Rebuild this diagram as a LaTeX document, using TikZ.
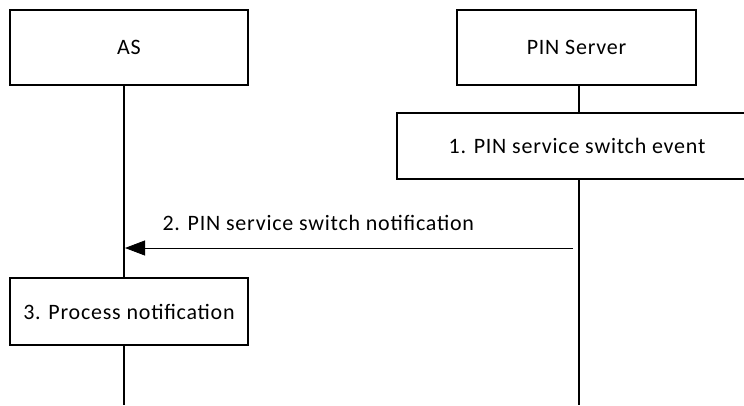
\documentclass[tikz,border=0pt]{standalone}
\usepackage{fontspec}
\setmainfont{Carlito}[LetterSpace=3.5]
\usetikzlibrary{arrows.meta}
\begin{document}
\begin{tikzpicture}[x=1pt,y=-1pt,
  box/.style={draw=black,line width=1.6pt,fill=white,inner sep=0pt},
  life/.style={draw=black,line width=1.6pt},
  msg/.style={draw=black,line width=0.8pt,-{Triangle[length=20pt,width=15pt]}},
  lbl/.style={font=\fontsize{22}{26}\selectfont}]
\useasboundingbox (0,0) rectangle (744,405);
\clip (0,0) rectangle (744,405);
% lifelines
\coordinate (asT) at (124,85);
\coordinate (asB) at (124,405);
\coordinate (pinT) at (579,85);
\coordinate (pinB) at (579,405);
\draw[life] (asT) -- (asB);
\draw[life] (pinT) -- (pinB);
% header boxes
\node[box,minimum width=238pt,minimum height=75pt,lbl] (as) at (129,47.5) {AS};
\node[box,minimum width=239pt,minimum height=75pt,lbl] (pin) at (576.5,47.5) {PIN Server};
% event box (extends off the right edge)
\draw[box] (397,113) rectangle (770,179);
\node[lbl] (ev) at (577,146) {1. PIN service switch event};
% message
\coordinate (mFrom) at (573,248);
\coordinate (mTo) at (125,248);
\draw[msg] (mFrom) -- (mTo);
\node[lbl,anchor=base west] (ml) at (159,230) {2. PIN service switch notification};
% process box
\node[box,minimum width=238pt,minimum height=67pt,lbl] (proc) at (129,311.5) {3. Process notification};
\end{tikzpicture}
\end{document}
